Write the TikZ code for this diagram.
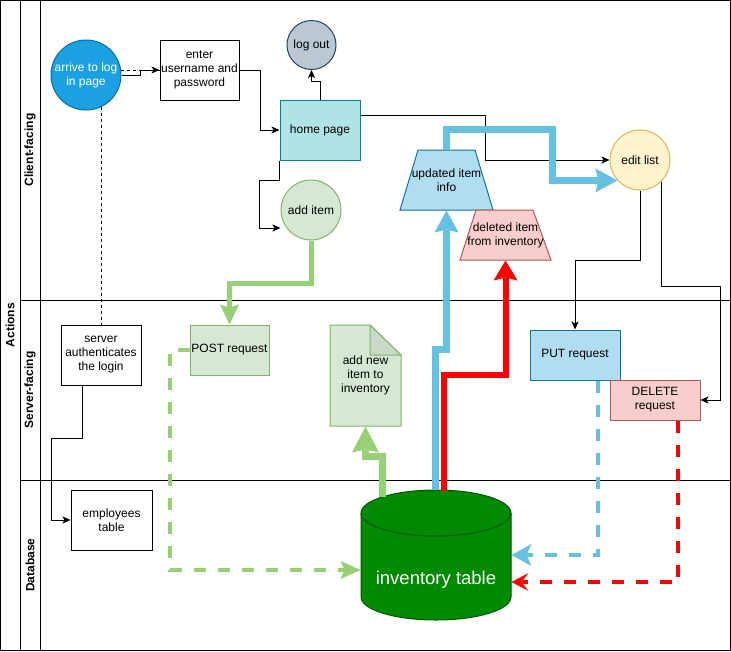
\documentclass[tikz,border=0pt]{standalone}
\usepackage{fontspec}
\setmainfont{Liberation Sans}
\usetikzlibrary{arrows.meta, calc, positioning}

\definecolor{arrivefill}{HTML}{1BA1E2}\definecolor{arrivedraw}{HTML}{006EAF}
\definecolor{logoutfill}{HTML}{BAC8D3}\definecolor{logoutdraw}{HTML}{23445D}
\definecolor{homefill}{HTML}{B0E3E6}\definecolor{homedraw}{HTML}{0E8088}
\definecolor{greenfill}{HTML}{D5E8D4}\definecolor{greendraw}{HTML}{82B366}
\definecolor{foldfill}{HTML}{C9D9C7}
\definecolor{editfill}{HTML}{FFF2CC}\definecolor{editdraw}{HTML}{D6B656}
\definecolor{bluefill}{HTML}{B1DDF0}\definecolor{bluedraw}{HTML}{10739E}
\definecolor{redfill}{HTML}{F8CECC}\definecolor{reddraw}{HTML}{B85450}
\definecolor{invfill}{HTML}{008A00}\definecolor{invdraw}{HTML}{005700}
\definecolor{lineblue}{HTML}{66C0E2}
\definecolor{linegreen}{HTML}{97D077}
\definecolor{linered}{HTML}{FF0000}

\tikzstyle{box}=[rectangle, draw=black, fill=white, inner sep=0pt, align=center]
\tikzstyle{circ}=[circle, draw, inner sep=0pt, align=center]
\tikzstyle{textonly}=[inner sep=0pt, align=center]
\tikzstyle{lane}=[rotate=90, font=\fontsize{12}{14}\selectfont\bfseries]
\tikzstyle{conn}=[-{Stealth[length=8pt,width=7pt,inset=2pt]}]
\tikzstyle{bluethick}=[draw=lineblue, line width=7pt, -{Stealth[length=22pt,width=24pt,inset=3pt,line width=0pt]}]
\tikzstyle{redthick}=[draw=linered, line width=6pt, -{Stealth[length=20pt,width=24pt,inset=3pt,line width=0pt]}]
\tikzstyle{greenthick}=[draw=linegreen, line width=5pt, -{Stealth[length=20pt,width=19pt,inset=3pt,line width=0pt]}]
\tikzstyle{dashedflow}=[line width=4pt, dash pattern=on 12pt off 12pt]

\begin{document}
\begin{tikzpicture}[x=1pt, y=-1pt, line width=1pt]
\tikzstyle{every node}=[font=\fontsize{12}{14}\selectfont]
\useasboundingbox (0,0) rectangle (731,651);

% lanes
\draw (0.5,0.5) rectangle (730.5,650.5);
\draw (20,0.5) -- (20,650.5);\draw (40,0.5) -- (40,650.5);
\draw (20,300) -- (730.5,300);\draw (20,480) -- (730.5,480);
\node[lane] (actions) at (10,325) {Actions};
\node[lane] (client) at (30,150) {Client-facing};
\node[lane] (server) at (30,390) {Server-facing};
\node[lane] (database) at (30,565) {Database};

% shapes drawn by hand
\filldraw[fill=bluefill, draw=bluedraw] (400,210) -- (493,210) -- (475,150) -- (418,150) -- cycle;
\filldraw[fill=redfill, draw=reddraw] (460,260) -- (551,260) -- (533,210) -- (476,210) -- cycle;
\filldraw[fill=greenfill, draw=greendraw] (330,325) -- (370,325) -- (401,355) -- (401,426) -- (330,426) -- cycle;
\filldraw[fill=foldfill, draw=greendraw] (370,325) -- (370,355) -- (401,355) -- cycle;
\filldraw[fill=invfill, draw=invdraw] (361,513) arc[start angle=180, end angle=0, x radius=75pt, y radius=23pt]
  -- (511,597) arc[start angle=0, end angle=-180, x radius=75pt, y radius=23pt] -- cycle;
\draw[invdraw] (361,513) arc[start angle=180, end angle=360, x radius=75pt, y radius=23pt];

\node[circ, fill=arrivefill, draw=arrivedraw, text=white, minimum size=70pt] (arrive) at (86,75) {arrive to log\\in page};
\node[box, minimum width=79pt, minimum height=60pt] (enter) at (199.5,70) {enter\\username and\\password};
\node[circ, fill=logoutfill, draw=logoutdraw, minimum size=49pt] (logout) at (311.5,45) {log out};
\node[box, fill=homefill, draw=homedraw, minimum width=80pt, minimum height=60pt] (home) at (320,130) {home page};
\node[circ, fill=greenfill, draw=greendraw, minimum size=60pt] (additem) at (311,210) {add item};
\node[textonly, minimum width=93pt, minimum height=60pt] (upd) at (446.5,180) {updated item\\info};
\node[textonly, minimum width=91pt, minimum height=50pt] (dele) at (505.5,235) {deleted item\\from inventory};
\node[circ, fill=editfill, draw=editdraw, minimum size=60pt] (edit) at (640,160) {edit list};
\node[box, minimum width=80pt, minimum height=60pt] (auth) at (101,355) {server\\authenticates\\the login};
\node[box, fill=greenfill, draw=greendraw, minimum width=79pt, minimum height=50pt] (post) at (229.5,350) {POST request};
\node[textonly, minimum width=71pt, minimum height=101pt] (addnew) at (365.5,375.5) {add new\\item to\\inventory};
\node[box, fill=bluefill, draw=bluedraw, minimum width=90pt, minimum height=50pt] (put) at (575,355) {PUT request};
\node[box, fill=redfill, draw=reddraw, minimum width=90pt, minimum height=40pt] (del) at (655,400) {DELETE\\request};
\node[box, minimum width=81pt, minimum height=60pt] (emp) at (111.5,520) {employees\\table};
\node[textonly, text=white, font=\fontsize{18.5}{22}\selectfont, text height=58pt, text depth=0pt,
  minimum width=150pt, minimum height=130pt] (inv) at (436,555) {inventory table};

% thin connectors
\draw[dashed] (arrive.8) -- (arrive.8 -| enter.west);
\draw[dashed] (arrive.-65) -- (arrive.-65 |- auth.north);
\draw[conn] (arrive.east) -- ++(19,0) |- (enter.west);
\draw[conn] (enter.east) -- ++(21,0) |- (home.west);
\draw[conn] (home.north) -- ++(0,-18) -| (logout.south);
\draw[conn] (home.south west) -- ++(0,20) -- ++(-20,0) |- ([yshift=-18pt]additem.west);
\draw[conn] ([yshift=15pt]home.east) -- ++(125,0) |- (edit.west);
\draw[conn] (edit.south) -- ++(0,70) -| (put.north);
\draw[conn] (edit.-45) -- ++(0,105) -- ++(59,0) |- (del.east);
\draw[conn] ([xshift=-19pt]auth.south) -- ++(0,53) -- ++(-31,0) |- (emp.west);

% thick flows
\draw[bluethick] (upd.north) -- ++(0,-20) -- ++(106,0) |- (edit.222);
\draw[greenthick] (additem.south) -- ++(0,43) -| (post.north);
\draw[greenthick, line width=7pt, -{Stealth[length=26pt,width=27pt,inset=3pt,line width=0pt]}]
  ([xshift=-54pt,yshift=-7pt]inv.north) -- ++(0,-40) -| (addnew.south);
\draw[bluethick] ([xshift=-1pt]inv.north) -- ++(0,-140) -| (upd.south);
\draw[redthick] ([xshift=8pt,yshift=-1pt]inv.north) -- ++(0,-116) -| (dele.south);

% dashed flows
\draw[dashedflow, draw=linegreen, -{Stealth[length=20pt,width=18pt,inset=4pt,line width=0pt]}]
  (post.west) -- ++(-20,0) |- ([yshift=-15pt]inv.west);
\draw[dashedflow, draw=lineblue, -{Stealth[length=20pt,width=22pt,inset=5pt,line width=0pt]}]
  ([xshift=23pt]put.south) |- (inv.east);
\draw[dashedflow, draw=linered, -{Stealth[length=17pt,width=18pt,inset=7pt,line width=0pt]}]
  ([xshift=23pt]del.south) |- ([yshift=-27pt]inv.east);
\end{tikzpicture}
\end{document}
